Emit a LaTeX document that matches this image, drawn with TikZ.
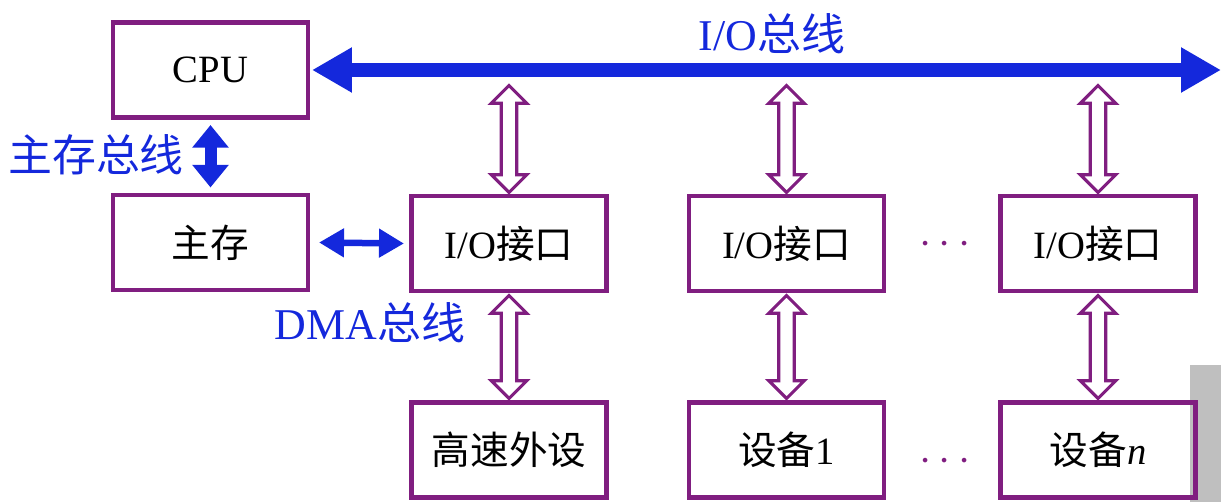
\documentclass[tikz,border=0pt]{standalone}
\usepackage{fontspec}
\setmainfont{Liberation Serif}
\newfontfamily\cjk{Noto Sans CJK SC}
\usetikzlibrary{arrows.meta,shapes.arrows}
\definecolor{pur}{RGB}{128,30,128}
\definecolor{bl}{RGB}{20,40,220}
\begin{document}
\begin{tikzpicture}[x=0.02cm,y=-0.02cm,
  box/.style={draw=pur,line width=2.6pt,minimum width=3.9cm,minimum height=1.9cm,font=\fontsize{22}{26}\selectfont},
  lab/.style={text=bl,font=\fontsize{25}{30}\selectfont},
  hol/.style={draw=pur,line width=1.8pt,fill=white,shape=double arrow,rotate=90,inner sep=3.5pt,double arrow head extend=0.2cm},
  bus/.style={draw=bl,line width=#1,{Triangle[width=0.85cm,length=0.8cm]}-{Triangle[width=0.85cm,length=0.8cm]}},
  dots/.style={text=pur,font=\fontsize{26}{30}\selectfont}]
\useasboundingbox (0,0) rectangle (1221,502);
\fill[gray!50] (1190,365) rectangle (1221,502);
\node[box] (cpu) at (210.5,70) {CPU};
\node[box] (mem) at (210.5,242.5) {\cjk 主存};
\node[box] (io1) at (509,243.5) {I/O{\cjk 接口}};
\node[box] (io2) at (786.5,243.5) {I/O{\cjk 接口}};
\node[box] (io3) at (1098,243.5) {I/O{\cjk 接口}};
\node[box] (d1) at (509,450) {\cjk 高速外设};
\node[box] (d2) at (786.5,450) {{\cjk 设备}1};
\node[box] (d3) at (1098,450) {{\cjk 设备}\textit{n}};
\coordinate (busL) at (312,70);
\coordinate (busR) at (1221,70);
\draw[bus=0.28cm] (busL) -- (busR);
\node[lab] (iolab) at (772,34) {I/O{\cjk 总线}};
\draw[draw=bl,line width=0.24cm,{Triangle[width=0.7cm,length=0.45cm]}-{Triangle[width=0.7cm,length=0.45cm]}] ([yshift=-3]cpu.south) -- ([yshift=3]mem.north);
\node[lab] (mlab) at (96,155) {\cjk 主存总线};
\draw[draw=bl,line width=0.13cm,{Triangle[width=0.55cm,length=0.5cm]}-{Triangle[width=0.55cm,length=0.5cm]}] ([xshift=5]mem.east) -- ([xshift=-3]io1.west);
\node[lab] (dlab) at (370,323) {DMA{\cjk 总线}};
\foreach \x/\n in {509/1,786.5/2,1098/3}{
  \node[hol,minimum height=2.14cm,minimum width=0.62cm] (u\n) at (\x,139) {};
  \node[hol,minimum height=2.06cm,minimum width=0.62cm] (l\n) at (\x,347) {};
}
\node[dots] (dt1) at (945,245) {$\cdots$};
\node[dots] (dt2) at (945,462) {$\cdots$};
\end{tikzpicture}
\end{document}
